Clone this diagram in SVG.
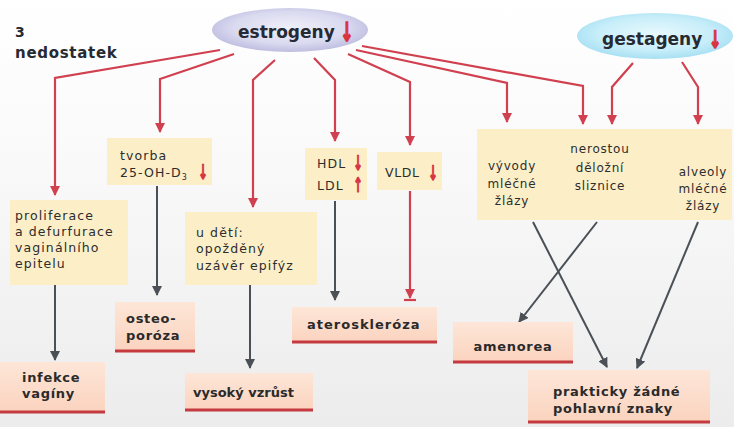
<svg xmlns="http://www.w3.org/2000/svg" width="734" height="427" viewBox="0 0 734 427">
<defs>
<linearGradient id="bg" x1="0" y1="0" x2="0" y2="1"><stop offset="0" stop-color="#ffffff"/><stop offset="0.4" stop-color="#f9f9f9"/><stop offset="1" stop-color="#ececec"/></linearGradient>
<radialGradient id="est" cx="0.5" cy="0.45" r="0.6"><stop offset="0" stop-color="#f0f0fa"/><stop offset="0.6" stop-color="#dadaf0"/><stop offset="1" stop-color="#b7b6dc"/></radialGradient>
<radialGradient id="ges" cx="0.5" cy="0.45" r="0.6"><stop offset="0" stop-color="#e8f8fd"/><stop offset="0.6" stop-color="#c8eef9"/><stop offset="1" stop-color="#9fdcf2"/></radialGradient>
<linearGradient id="pk" x1="0" y1="0" x2="0" y2="1"><stop offset="0" stop-color="#fde6d8"/><stop offset="1" stop-color="#fbd3bf"/></linearGradient>
<marker id="ar" viewBox="0 0 10 10" refX="9" refY="5" markerWidth="10" markerHeight="10" markerUnits="userSpaceOnUse" orient="auto"><path d="M0,0 L10,5 L0,10 Z" fill="#d0404f"/></marker>
<marker id="ag" viewBox="0 0 10 10" refX="9" refY="5" markerWidth="10" markerHeight="10" markerUnits="userSpaceOnUse" orient="auto"><path d="M0,0 L10,5 L0,10 Z" fill="#4b5056"/></marker>
<style>
.r{fill:none;stroke:#d0404f;stroke-width:2.2;marker-end:url(#ar)}
.g{fill:none;stroke:#4b5056;stroke-width:2;marker-end:url(#ag)}
.yb{fill:#fcefc8}
.pb{fill:url(#pk)}
.ul{stroke:#c43a3e;stroke-width:3}
.t{font-family:"DejaVu Sans",sans-serif;font-size:12.5px;fill:#2d2d2d;letter-spacing:1.1px}
.tc{font-family:"DejaVu Sans",sans-serif;font-size:12px;fill:#2d2d2d;letter-spacing:0.8px;text-anchor:middle}
.b{font-family:"DejaVu Sans",sans-serif;font-weight:bold;font-size:13px;fill:#2a2a2a;letter-spacing:0.7px}
.h{font-family:"DejaVu Sans",sans-serif;font-weight:bold;font-size:17px;fill:#262a33}
.ra{font-family:"DejaVu Sans",sans-serif;font-weight:bold;fill:#d8323f;stroke:#d8323f;stroke-width:1.6px;text-anchor:middle}
</style>
</defs>
<rect width="734" height="427" fill="url(#bg)"/>

<g id="title">
<text class="h" x="15" y="37" style="font-size:14px">3</text>
<text class="h" x="15" y="58" style="font-size:15px;letter-spacing:0.7px">nedostatek</text>
</g>

<g id="connectors">
<polyline class="r" points="220,50 55,78 55,195"/>
<polyline class="r" points="234,54 160,79 160,132"/>
<polyline class="r" points="275,60 253,80 253,207"/>
<polyline class="r" points="314,58 335,80 335,141"/>
<polyline class="r" points="348,54 410,82 410,145"/>
<polyline class="r" points="356,50 507,83 507,122"/>
<polyline class="r" points="362,46 583,86 583,124"/>
<polyline class="r" points="633,63 612,87 612,124"/>
<polyline class="r" points="682,62 698,87 698,124"/>
<line class="g" x1="55" y1="285" x2="55" y2="360"/>
<line class="g" x1="157" y1="186" x2="157" y2="295"/>
<line class="g" x1="250" y1="285" x2="250" y2="368"/>
<line class="g" x1="335" y1="201" x2="335" y2="300"/>
<polyline class="r" points="410,191 410,298"/>
<line x1="404" y1="300" x2="416" y2="300" stroke="#d0404f" stroke-width="2.2"/>
<line class="g" x1="533" y1="222" x2="607" y2="367"/>
<line class="g" x1="597" y1="222" x2="519" y2="322"/>
<line class="g" x1="698" y1="222" x2="637" y2="368"/>
</g>

<g id="estrogeny">
<ellipse cx="290" cy="30" rx="78" ry="22" fill="url(#est)"/>
<text class="h" x="238" y="38">estrogeny</text>
<text class="ra" transform="translate(347,41) scale(0.6,1)" style="font-size:26px">↓</text>
</g>

<g id="gestageny">
<ellipse cx="655" cy="36" rx="78" ry="23" fill="url(#ges)"/>
<text class="h" x="602" y="45">gestageny</text>
<text class="ra" transform="translate(715,48) scale(0.6,1)" style="font-size:24px">↓</text>
</g>

<g id="proliferace">
<rect class="yb" x="10" y="200" width="118" height="85"/>
<text class="t" x="15" y="220">proliferace</text>
<text class="t" x="15" y="236">a defurfurace</text>
<text class="t" x="15" y="252">vaginálního</text>
<text class="t" x="15" y="268">epitelu</text>
</g>

<g id="tvorba">
<rect class="yb" x="107" y="138" width="105" height="47"/>
<text class="t" x="120" y="160">tvorba</text>
<text class="t" x="120" y="177">25-OH-D<tspan style="font-size:8px" dy="3">3</tspan></text>
<text class="ra" transform="translate(203,179) scale(0.55,1)" style="font-size:20px;stroke-width:1.2px">↓</text>
</g>

<g id="udeti">
<rect class="yb" x="185" y="212" width="132" height="73"/>
<text class="t" x="196" y="237">u dětí:</text>
<text class="t" x="196" y="253">opožděný</text>
<text class="t" x="196" y="270">uzávěr epifýz</text>
</g>

<g id="hdl">
<rect class="yb" x="305" y="148" width="62" height="52"/>
<text class="t" x="317" y="168">HDL</text>
<text class="t" x="317" y="190">LDL</text>
<text class="ra" transform="translate(358,170) scale(0.55,1)" style="font-size:20px;stroke-width:1.2px">↓</text>
<text class="ra" transform="translate(358,192) scale(0.55,1)" style="font-size:20px;stroke-width:1.2px">↑</text>
</g>

<g id="vldl">
<rect class="yb" x="377" y="152" width="65" height="38"/>
<text class="t" x="385" y="177" style="letter-spacing:0.6px">VLDL</text>
<text class="ra" transform="translate(433,180) scale(0.55,1)" style="font-size:20px;stroke-width:1.2px">↓</text>
</g>

<g id="prs">
<rect class="yb" x="477" y="129" width="255" height="91"/>
<text class="tc" x="512" y="170">vývody</text>
<text class="tc" x="512" y="188">mléčné</text>
<text class="tc" x="512" y="205">žlázy</text>
<text class="tc" x="600" y="153">nerostou</text>
<text class="tc" x="600" y="172">děložní</text>
<text class="tc" x="600" y="190">sliznice</text>
<text class="tc" x="703" y="176">alveoly</text>
<text class="tc" x="703" y="193">mléčné</text>
<text class="tc" x="703" y="210">žlázy</text>
</g>

<g id="osteoporoza">
<rect class="pb" x="115" y="302" width="80" height="49"/>
<line class="ul" x1="115" y1="351" x2="195" y2="351"/>
<text class="b" x="126" y="323">osteo-</text>
<text class="b" x="126" y="340">poróza</text>
</g>

<g id="infekce">
<rect class="pb" x="0" y="362" width="105" height="50"/>
<line class="ul" x1="0" y1="412" x2="105" y2="412"/>
<text class="b" x="22" y="382">infekce</text>
<text class="b" x="22" y="398">vagíny</text>
</g>

<g id="vzrust">
<rect class="pb" x="185" y="373" width="128" height="37"/>
<line class="ul" x1="185" y1="410" x2="313" y2="410"/>
<text class="b" x="193" y="397" style="letter-spacing:0px">vysoký vzrůst</text>
</g>

<g id="ateroskleroza">
<rect class="pb" x="292" y="307" width="145" height="35"/>
<line class="ul" x1="292" y1="342" x2="437" y2="342"/>
<text class="b" x="307" y="329" style="letter-spacing:1px">ateroskleróza</text>
</g>

<g id="amenorea">
<rect class="pb" x="453" y="322" width="120" height="40"/>
<line class="ul" x1="453" y1="362" x2="573" y2="362"/>
<text class="b" x="513" y="351" text-anchor="middle">amenorea</text>
</g>

<g id="prakticky">
<rect class="pb" x="528" y="370" width="182" height="52"/>
<line class="ul" x1="528" y1="422" x2="710" y2="422"/>
<text class="b" x="553" y="396">prakticky žádné</text>
<text class="b" x="553" y="413">pohlavní znaky</text>
</g>
</svg>
